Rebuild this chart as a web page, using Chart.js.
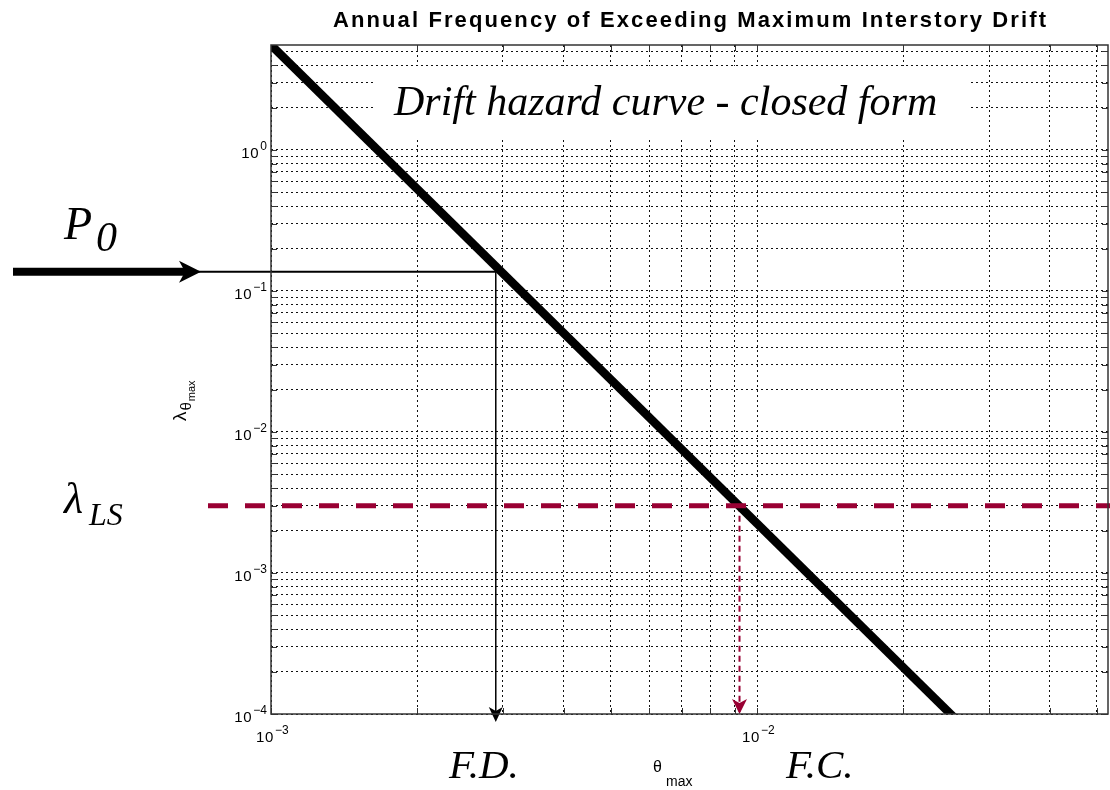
<!DOCTYPE html>
<html>
<head>
<meta charset="utf-8">
<script src="https://cdn.jsdelivr.net/npm/chart.js@4.4.0/dist/chart.umd.min.js"></script>
<style>
  html, body { margin: 0; padding: 0; background: #fff; }
  #wrap { width: 1110px; height: 790px; }
</style>
</head>
<body>
<div id="wrap"><canvas id="hazardChart" width="1110" height="790"></canvas></div>
<script>
// drift hazard curve (straight line on log-log)
const curveTheta = [0.001, 0.025];
const curveLambda = [5.55, 0.0001];

// P0 -> F.D. construction
const p0Lambda = 0.137;
const fdTheta = 0.0029;

// lambda_LS -> F.C. construction
const lsLambda = 0.003;
const fcTheta = 0.0092;

const xRange = [0.001, 0.0527];
const yRange = [0.0001, 5.55];

// grid: every decade times 1..9
const xDecades = [0.001, 0.01];
const yDecades = [0.0001, 0.001, 0.01, 0.1, 1];
const mantissas = [1, 2, 3, 4, 5, 6, 7, 8, 9];

const titleText = 'Annual Frequency of Exceeding Maximum Interstory Drift';
const curveText = 'Drift hazard curve - closed form';

const RED = '#990033';
const SANS = '"Liberation Sans", Arial, sans-serif';
const SERIF = '"Liberation Serif", "Times New Roman", serif';

function buildTicks(decades, max) {
  const out = [];
  decades.forEach(d => mantissas.forEach(m => {
    const v = Number((d * m).toPrecision(6));
    if (v <= max * 1.0001) out.push(v);
  }));
  return out;
}
const xTicks = buildTicks(xDecades, xRange[1]);
const yTicks = buildTicks(yDecades, yRange[1]);

// exponent of a decade tick, or null for the 2..9 ones
function decadeExp(v) {
  const e = Math.round(Math.log10(v));
  return Math.abs(v / Math.pow(10, e) - 1) > 1e-6 ? null : e;
}

function spacedText(ctx, text, cx, y, width) {
  const chars = text.split('');
  const w = ctx.measureText(text).width;
  const extra = (width - w) / (chars.length - 1);
  let x = cx - width / 2;
  ctx.textAlign = 'left';
  chars.forEach(c => { ctx.fillText(c, x, y); x += ctx.measureText(c).width + extra; });
}

// "10" with a raised exponent, MATLAB style; anchor = left edge, baseline
function powerLabel(ctx, e, x, y) {
  ctx.textAlign = 'left';
  ctx.font = '15px ' + SANS;
  ctx.fillText('1', x, y);
  ctx.fillText('0', x + 9, y);
  ctx.font = '12px ' + SANS;
  ctx.fillText(String(e).replace('-', '\u2212'), x + 19, y - 8);
}
function powerWidth(ctx, e) {
  ctx.font = '12px ' + SANS;
  return 19 + ctx.measureText(String(e).replace('-', '\u2212')).width;
}

function arrowHead(ctx, tipX, tipY, dx, dy, len, half, notch, color) {
  const bx = tipX - dx * len, by = tipY - dy * len;
  const px = -dy, py = dx;
  ctx.beginPath();
  ctx.moveTo(tipX, tipY);
  ctx.lineTo(bx + px * half, by + py * half);
  ctx.lineTo(tipX - dx * (len - notch), tipY - dy * (len - notch));
  ctx.lineTo(bx - px * half, by - py * half);
  ctx.closePath();
  ctx.fillStyle = color;
  ctx.fill();
}

const overlay = {
  id: 'overlay',
  beforeDatasetsDraw(chart) {
    const { ctx, chartArea: a, scales: { x, y } } = chart;
    ctx.save();
    // small inward ticks
    ctx.strokeStyle = '#333';
    ctx.lineWidth = 1;
    ctx.beginPath();
    xTicks.forEach(v => {
      const px = Math.round(x.getPixelForValue(v)) + 0.5;
      ctx.moveTo(px, a.bottom); ctx.lineTo(px, a.bottom - 6);
      ctx.moveTo(px, a.top); ctx.lineTo(px, a.top + 6);
    });
    yTicks.forEach(v => {
      const py = Math.round(y.getPixelForValue(v)) + 0.5;
      ctx.moveTo(a.left, py); ctx.lineTo(a.left + 6, py);
      ctx.moveTo(a.right, py); ctx.lineTo(a.right - 6, py);
    });
    ctx.stroke();
    // white box behind the curve caption
    ctx.fillStyle = '#fff';
    ctx.fillRect(375, 66, 595, 74);
    ctx.restore();
  },
  afterDatasetsDraw(chart) {
    const { ctx, chartArea: a, scales: { x, y } } = chart;
    ctx.save();

    // lambda_LS dashed line
    const yLs = y.getPixelForValue(lsLambda);
    ctx.strokeStyle = RED;
    ctx.lineWidth = 5;
    ctx.setLineDash([20, 17]);
    ctx.beginPath();
    ctx.moveTo(208, yLs); ctx.lineTo(1110, yLs);
    ctx.stroke();
    ctx.setLineDash([]);

    // P0 arrow into the axes and thin leader to the curve
    const yP0 = y.getPixelForValue(p0Lambda);
    const xFd = x.getPixelForValue(fdTheta);
    ctx.strokeStyle = '#000';
    ctx.lineWidth = 8;
    ctx.beginPath();
    ctx.moveTo(13, yP0); ctx.lineTo(186, yP0);
    ctx.stroke();
    arrowHead(ctx, 201, yP0, 1, 0, 22, 11, 6, '#000');
    ctx.lineWidth = 2;
    ctx.beginPath();
    ctx.moveTo(198, yP0); ctx.lineTo(xFd, yP0);
    ctx.stroke();

    // arrowheads at the bottom of the two drop lines
    arrowHead(ctx, xFd, a.bottom + 8, 0, 1, 15, 7, 4, '#000');
    const xFc = x.getPixelForValue(fcTheta);
    arrowHead(ctx, xFc, a.bottom, 0, 1, 15, 7.5, 4, RED);

    // frame
    ctx.strokeStyle = '#333';
    ctx.lineWidth = 1.5;
    ctx.strokeRect(a.left, a.top, a.right - a.left, a.bottom - a.top);

    // tick labels at the decades
    ctx.fillStyle = '#000';
    ctx.textBaseline = 'alphabetic';
    yTicks.forEach(v => {
      const e = decadeExp(v);
      if (e === null) return;
      const py = y.getPixelForValue(v);
      powerLabel(ctx, e, a.left - 4 - powerWidth(ctx, e), py + 8);
    });
    xTicks.forEach(v => {
      const e = decadeExp(v);
      if (e === null) return;
      const px = x.getPixelForValue(v);
      powerLabel(ctx, e, px - 15, a.bottom + 28);
    });

    // title
    ctx.font = 'bold 22px ' + SANS;
    spacedText(ctx, titleText, (a.left + a.right) / 2, 27, 713);

    // caption
    ctx.textAlign = 'left';
    ctx.font = 'italic 42px ' + SERIF;
    ctx.fillText(curveText, 394, 115);

    // P0
    ctx.font = 'italic 46px ' + SERIF;
    ctx.fillText('P', 64, 239);
    ctx.font = 'italic 42px ' + SERIF;
    ctx.fillText('0', 96, 251);

    // lambda_LS
    ctx.font = 'italic 44px ' + SERIF;
    ctx.fillText('\u03BB', 64, 513);
    ctx.font = 'italic 32px ' + SERIF;
    ctx.fillText('LS', 89, 525);

    // F.D. / F.C.
    ctx.font = 'italic 41px ' + SERIF;
    ctx.fillText('F.D.', 449, 778);
    ctx.fillText('F.C.', 786, 778);

    // x axis label theta_max
    ctx.font = '16px ' + SANS;
    ctx.fillText('\u03B8', 653, 772);
    ctx.font = '14px ' + SANS;
    ctx.fillText('max', 666, 786);

    // y axis label lambda_theta_max (rotated)
    ctx.translate(186, 421);
    ctx.rotate(-Math.PI / 2);
    ctx.font = '19px ' + SANS;
    ctx.fillText('\u03BB', 0, 0);
    const lw = ctx.measureText('\u03BB').width;
    ctx.font = '15px ' + SANS;
    ctx.fillText('\u03B8', lw + 1, 5);
    const tw = ctx.measureText('\u03B8').width;
    ctx.font = '11px ' + SANS;
    ctx.fillText('max', lw + tw + 2, 9);

    ctx.restore();
  }
};

const ctxHazard = document.getElementById('hazardChart').getContext('2d');
const hazardChart = new Chart(ctxHazard, {
  type: 'line',
  data: {
    datasets: [
      {
        label: 'Drift hazard',
        data: curveTheta.map((t, i) => ({ x: t, y: curveLambda[i] })),
        borderColor: '#000',
        borderWidth: 8.5,
        borderCapStyle: 'square',
        pointRadius: 0,
        clip: 0
      },
      {
        label: 'F.D.',
        data: [{ x: fdTheta, y: p0Lambda }, { x: fdTheta, y: yRange[0] }],
        borderColor: '#000',
        borderWidth: 1.5,
        pointRadius: 0,
        clip: 0
      },
      {
        label: 'F.C.',
        data: [{ x: fcTheta, y: lsLambda }, { x: fcTheta, y: yRange[0] }],
        borderColor: RED,
        borderWidth: 2,
        borderDash: [6, 4],
        pointRadius: 0,
        clip: 0
      }
    ]
  },
  options: {
    responsive: false,
    animation: false,
    layout: { padding: { top: 45, right: 2, left: 0, bottom: 0 } },
    plugins: {
      legend: { display: false },
      tooltip: { enabled: false },
      title: { display: false }
    },
    scales: {
      x: {
        type: 'logarithmic',
        min: xRange[0],
        max: xRange[1],
        afterBuildTicks: s => { s.ticks = xTicks.map(v => ({ value: v })); },
        afterFit: s => { s.height = 76; },
        grid: { color: '#111', lineWidth: 1, drawTicks: false },
        border: { display: false, dash: [2, 3] },
        ticks: { display: false, autoSkip: false }
      },
      y: {
        type: 'logarithmic',
        min: yRange[0],
        max: yRange[1],
        afterBuildTicks: s => { s.ticks = yTicks.map(v => ({ value: v })); },
        afterFit: s => { s.width = 271; },
        grid: { color: '#111', lineWidth: 1, drawTicks: false },
        border: { display: false, dash: [2, 3] },
        ticks: { display: false, autoSkip: false }
      }
    }
  },
  plugins: [overlay]
});
</script>
</body>
</html>
